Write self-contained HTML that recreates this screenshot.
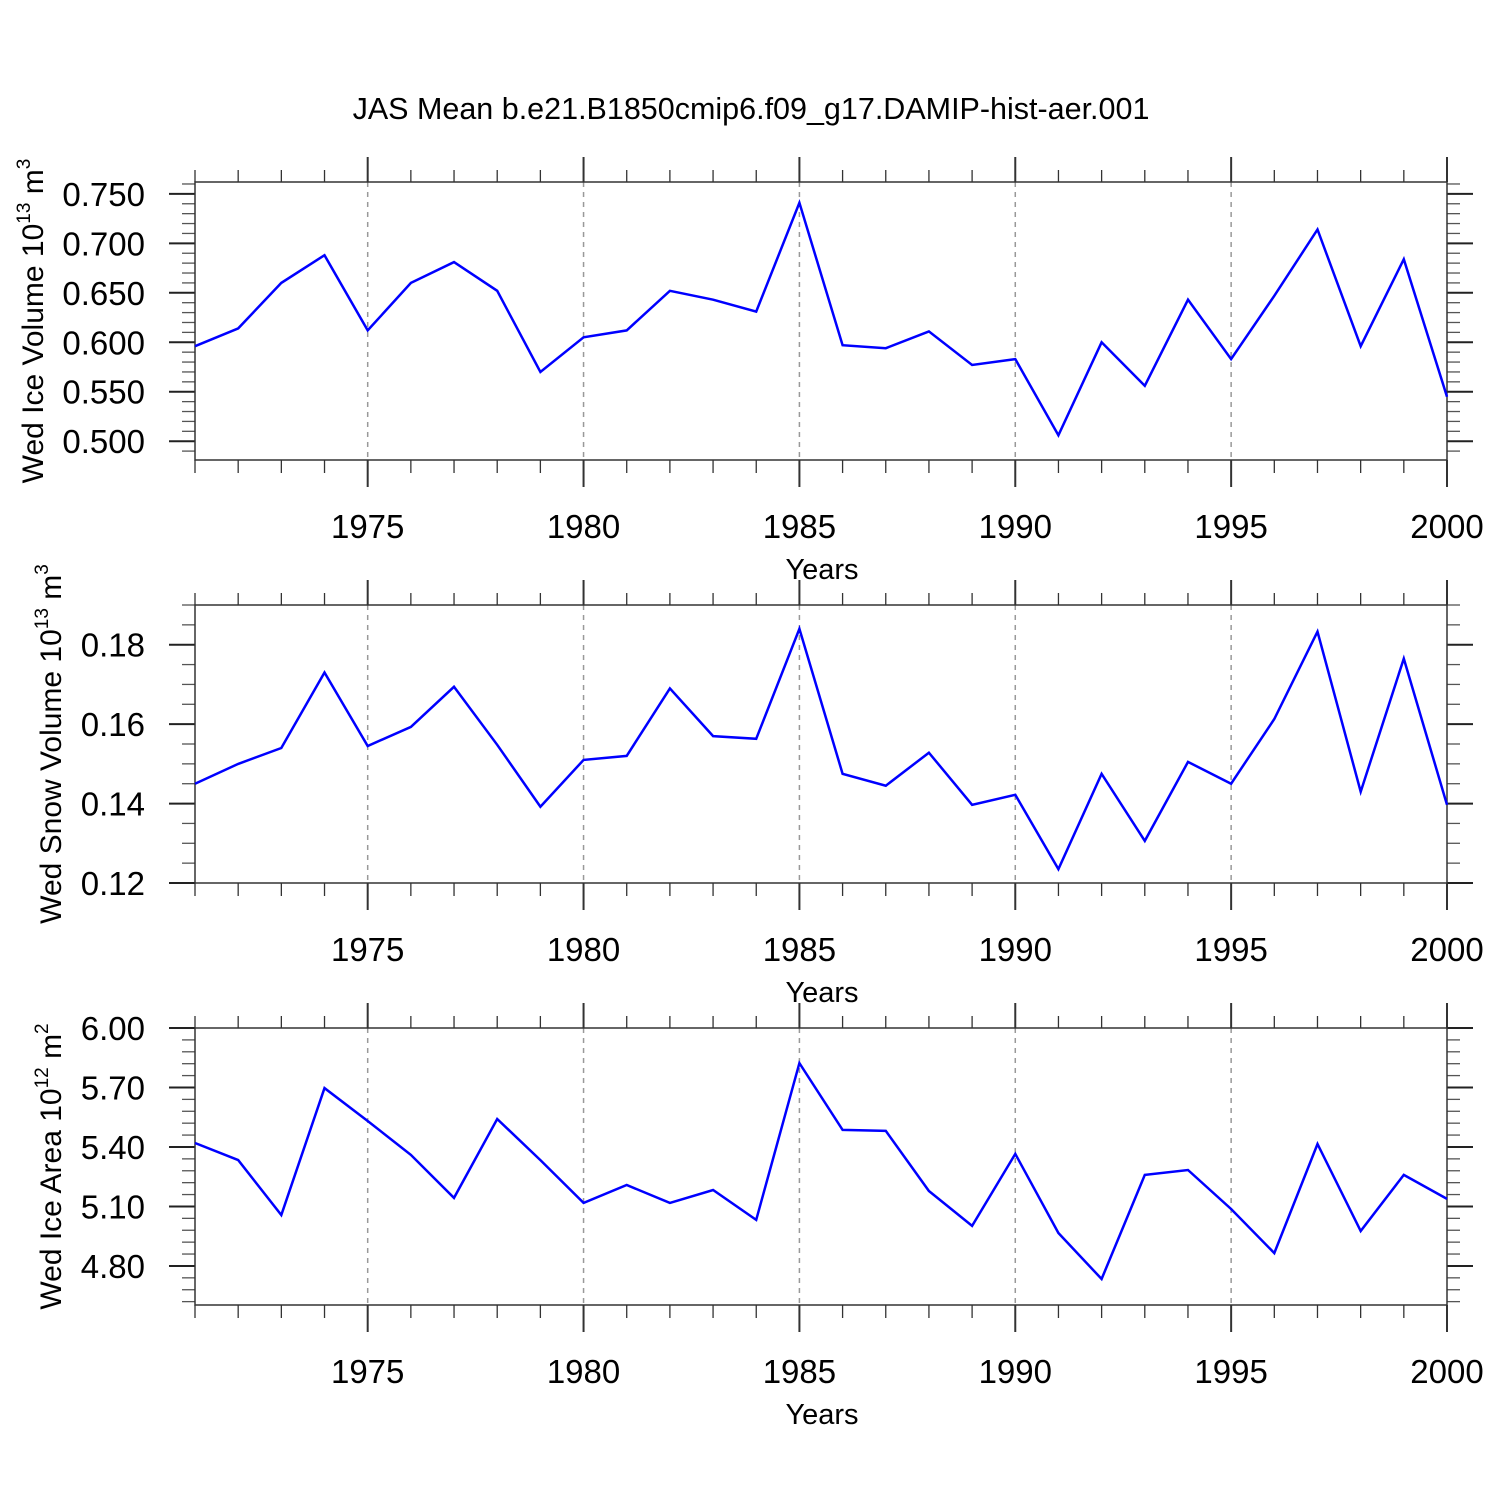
<!DOCTYPE html>
<html><head><meta charset="utf-8"><style>
html,body{margin:0;padding:0;background:#fff}
svg{display:block;font-family:"Liberation Sans",Arial,sans-serif}
</style></head><body>
<svg id="chart" width="1500" height="1500" viewBox="0 0 1500 1500" xmlns="http://www.w3.org/2000/svg">
<text x="751" y="119" font-size="30.5" text-anchor="middle">JAS Mean b.e21.B1850cmip6.f09_g17.DAMIP-hist-aer.001</text>
</svg>
<script>
const years = [1971,1972,1973,1974,1975,1976,1977,1978,1979,1980,1981,1982,1983,1984,1985,1986,1987,1988,1989,1990,1991,1992,1993,1994,1995,1996,1997,1998,1999,2000];
const iceVolume = [0.596,0.614,0.660,0.688,0.612,0.660,0.681,0.652,0.570,0.605,0.612,0.652,0.643,0.631,0.741,0.597,0.594,0.611,0.577,0.583,0.506,0.600,0.556,0.643,0.583,0.647,0.714,0.596,0.684,0.545];
const snowVolume = [0.145,0.150,0.154,0.173,0.1545,0.1593,0.1694,0.1548,0.1392,0.151,0.152,0.169,0.157,0.1563,0.184,0.1475,0.1445,0.1528,0.1397,0.1422,0.1235,0.1475,0.1306,0.1505,0.145,0.1613,0.1833,0.143,0.1765,0.1397];
const iceArea = [5.42,5.334,5.057,5.697,5.531,5.36,5.143,5.541,5.334,5.118,5.208,5.118,5.183,5.032,5.823,5.486,5.481,5.178,5.002,5.365,4.966,4.734,5.259,5.284,5.087,4.865,5.415,4.976,5.259,5.138];
const xTickYears = [1975,1980,1985,1990,1995,2000];
const iceVolTicks = ["0.500","0.550","0.600","0.650","0.700","0.750"];
const snowVolTicks = ["0.12","0.14","0.16","0.18"];
const iceAreaTicks = ["4.80","5.10","5.40","5.70","6.00"];

const NS="http://www.w3.org/2000/svg";
const svg=document.getElementById('chart');
function mk(tag,attrs,parent){const e=document.createElementNS(NS,tag);for(const k in attrs)e.setAttribute(k,attrs[k]);(parent||svg).appendChild(e);return e;}
const X0=195,X1=1447,Y0=1971,Y1=2000;
const xs=v=>X0+(v-Y0)/(Y1-Y0)*(X1-X0);

const panels=[
 {name:'ice-volume',top:182,bot:460,vmin:0.481,vmax:0.762,data:iceVolume,ticks:iceVolTicks,minor:0.01,title:['Wed Ice Volume 10','13',' m','3'],tx:43},
 {name:'snow-volume',top:605,bot:883,vmin:0.12,vmax:0.19,data:snowVolume,ticks:snowVolTicks,minor:0.005,title:['Wed Snow Volume 10','13',' m','3'],tx:61},
 {name:'ice-area',top:1028,bot:1305,vmin:4.603,vmax:6.0,data:iceArea,ticks:iceAreaTicks,minor:0.06,title:['Wed Ice Area 10','12',' m','2'],tx:61}
];
panels.forEach(p=>{
 const g=mk('g',{});
 
 
 const ys=v=>p.bot-(v-p.vmin)/(p.vmax-p.vmin)*(p.bot-p.top);
 xTickYears.slice(0,-1).forEach(yr=>{
  const l=mk('line',{x1:xs(yr),x2:xs(yr),y1:p.top,y2:p.bot,stroke:'#999','stroke-width':1.5,'stroke-dasharray':'5,5'},g);
  
  
 });
 for(let yr=Y0;yr<=Y1;yr++){
  const maj=yr%5===0, x=xs(yr);
  mk('line',{x1:x,x2:x,y1:p.top,y2:p.top-(maj?25:12),stroke:'#333','stroke-width':maj?2:1.3},g);
  mk('line',{x1:x,x2:x,y1:p.bot,y2:p.bot+(maj?27:13),stroke:'#333','stroke-width':maj?2:1.3},g);
 }
 xTickYears.forEach(yr=>{
  const t=mk('text',{x:xs(yr),y:p.bot+78,'font-size':33,'text-anchor':'middle'},g);
  t.textContent=yr;
  
  
 });
 const xt=mk('text',{x:822,y:p.bot+119,'font-size':29,'text-anchor':'middle'},g);
 xt.textContent='Years';
 
 
 const start=Math.ceil(p.vmin/p.minor-1e-6);
 for(let k=start;k*p.minor<=p.vmax+1e-9;k++){
  const y=ys(k*p.minor);
  mk('line',{x1:X0,x2:X0-13,y1:y,y2:y,stroke:'#555','stroke-width':1.3},g);
  mk('line',{x1:X1,x2:X1+13,y1:y,y2:y,stroke:'#555','stroke-width':1.3},g);
 }
 p.ticks.forEach(s=>{
  const y=ys(parseFloat(s));
  mk('line',{x1:X0,x2:X0-26,y1:y,y2:y,stroke:'#222','stroke-width':2},g);
  mk('line',{x1:X1,x2:X1+26,y1:y,y2:y,stroke:'#222','stroke-width':2},g);
  const t=mk('text',{x:145,y:y+12,'font-size':33,'text-anchor':'end'},g);
  t.textContent=s;
  
  
 });
 const fr=mk('rect',{x:X0,y:p.top,width:X1-X0,height:p.bot-p.top,fill:'none',stroke:'#333','stroke-width':1.5},g);
 
 
 const pts=p.data.map((v,i)=>xs(years[i]).toFixed(1)+','+ys(v).toFixed(1)).join(' ');
 const pl=mk('polyline',{points:pts,fill:'none',stroke:'#0000ff','stroke-width':2.5,'stroke-linejoin':'miter'},g);
 
 
 const cy=(p.top+p.bot)/2;
 const t=mk('text',{x:0,y:0,'font-size':30,'text-anchor':'middle',transform:'translate('+p.tx+','+cy+') rotate(-90)'},g);
 
 
 const a=mk('tspan',{},t);a.textContent=p.title[0];
 const b=mk('tspan',{dy:-13,'font-size':19},t);b.textContent=p.title[1];
 const c=mk('tspan',{dy:13},t);c.textContent=p.title[2];
 const d=mk('tspan',{dy:-13,'font-size':19},t);d.textContent=p.title[3];
});
</script>
</body></html>
